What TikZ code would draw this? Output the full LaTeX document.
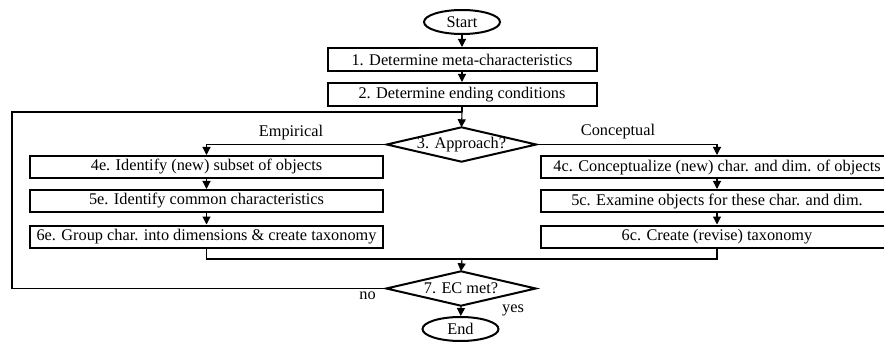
\documentclass[tikz,border=0pt]{standalone}
\usepackage{fontspec}
\setmainfont{Liberation Serif}
\usetikzlibrary{shapes.geometric,arrows.meta}
\begin{document}
\begin{tikzpicture}[x=1pt,y=-1pt,
  lbl/.style={font=\fontsize{16.3}{18}\selectfont,inner sep=0pt},
  box/.style={lbl,draw,line width=2pt,minimum height=22pt},
  lbox/.style={box,minimum width=353pt},
  rbox/.style={box,minimum width=352pt},
  tbox/.style={box,minimum width=269pt,minimum height=23pt},
  term/.style={lbl,ellipse,draw,line width=2pt,minimum width=76pt,minimum height=24pt},
  decision/.style={lbl,minimum width=149pt,minimum height=34pt},
  dpath/.style={line width=2pt,line join=miter},
  conn/.style={line width=1.1pt,-{Triangle[width=8pt,length=8pt]}},
  plain/.style={line width=1.1pt}]
\useasboundingbox (0,0) rectangle (884,342);
\clip (0,0) rectangle (884,342);
\fill[white] (0,0) rectangle (884,342);

\node[term] (start) at (462,22) {Start};
\node[tbox] (b1) at (462,59.5) {1. Determine meta-characteristics};
\node[tbox] (b2) at (462,94.5) {2. Determine ending conditions};
\coordinate (J) at (462,112);
\node[decision] (d3) at (461.5,144.5) {3. Approach?};
\draw[dpath] (d3.west) -- (d3.north) -- (d3.east) -- (d3.south) -- cycle;

\node[lbox] (b4e) at (206.5,167) {4e. Identify (new) subset of objects};
\node[lbox] (b5e) at (206.5,201) {5e. Identify common characteristics};
\node[lbox] (b6e) at (206.5,236.5) {6e. Group char. into dimensions \& create taxonomy};

\node[rbox] (b4c) at (717,167) {4c. Conceptualize (new) char. and dim. of objects};
\node[rbox] (b5c) at (717,201) {5c. Examine objects for these char. and dim.};
\node[rbox] (b6c) at (717,236.5) {6c. Create (revise) taxonomy};

\coordinate (K) at (462,259);
\node[decision] (d7) at (461,288.5) {7. EC met?};
\draw[dpath] (d7.west) -- (d7.north) -- (d7.east) -- (d7.south) -- cycle;
\node[term] (end) at (460.5,329) {End};
\coordinate (L) at (12,112);

\node[lbl] (emp) at (291,133) {Empirical};
\node[lbl] (con) at (618,132) {Conceptual};
\node[lbl] (no) at (367.5,296) {no};
\node[lbl] (yes) at (513,310) {yes};

\draw[conn] (start) -- (b1);
\draw[conn] (b1) -- (b2);
\draw[plain] (b2.south) -- (J);
\draw[conn] (J) -- (d3.north);
\draw[conn] (d3.west) -| (b4e.north);
\draw[conn] (d3.east) -| (b4c.north);
\draw[conn] (b4e) -- (b5e);
\draw[conn] (b5e) -- (b6e);
\draw[conn] (b4c) -- (b5c);
\draw[conn] (b5c) -- (b6c);
\draw[plain] (b6e.south) |- (K);
\draw[plain] (b6c.south) |- (K);
\draw[conn] (K) -- (d7.north);
\draw[plain] (d7.west) -| (L) -- (J);
\draw[conn] (d7.south) -- (end);
\end{tikzpicture}
\end{document}
